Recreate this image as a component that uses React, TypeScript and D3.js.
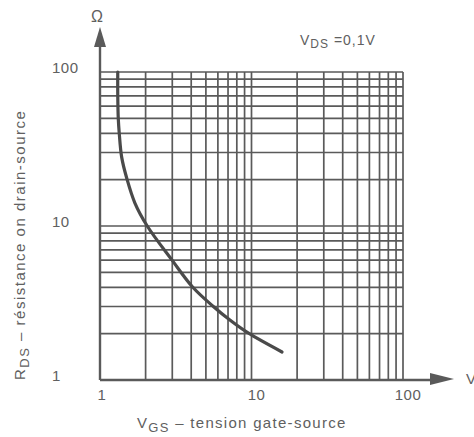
import React from "react";
import * as d3 from "d3";

const xGridValues = [2, 3, 4, 5, 6, 7, 8, 9, 10, 20, 30, 40, 50, 60, 70, 80, 90, 100];
const yGridValues = [2, 3, 4, 5, 6, 7, 8, 9, 10, 20, 30, 40, 50, 60, 70, 80, 90, 100];
const xTicks = [1, 10, 100];
const yTicks = [1, 10, 100];
const xTickLabels = ["1", "10", "100"];
const yTickLabels = ["1", "10", "100"];

const vgs = [1.31, 1.31, 1.32, 1.34, 1.39, 1.5, 1.7, 2.05, 2.99, 4.1, 5.6, 7.2, 9.5, 15.9];
const rds = [100, 70, 50, 40, 28, 20.5, 14.1, 10, 6.0, 4.0, 3.0, 2.45, 2.02, 1.52];

const W = 474;
const H = 437;
const ink = "#5a5a5a";
const textInk = "#606060";
const font = "'Liberation Sans', Arial, sans-serif";

export default function App() {
  const x = d3.scaleLog().domain([1, 100]).range([100, 403]);
  const y = d3.scaleLog().domain([1, 100]).range([380, 72]);
  const pts: [number, number][] = vgs.map((v, i) => [v, rds[i]]);
  const line = d3
    .line<[number, number]>()
    .x((d) => x(d[0]))
    .y((d) => y(d[1]))
    .curve(d3.curveCatmullRom.alpha(0.5));

  return (
    <svg
      width={W}
      height={H}
      style={{ position: "absolute", left: 0, top: 0, background: "#fff" }}
      fontFamily={font}
    >
      <rect width={W} height={H} fill="#fff" />
      {xGridValues.map((v) => (
        <line key={"vx" + v} x1={x(v)} x2={x(v)} y1={y(100)} y2={y(1)} stroke={ink} strokeWidth={1.7} />
      ))}
      {yGridValues.map((v) => (
        <line key={"hy" + v} x1={x(1)} x2={x(100)} y1={y(v)} y2={y(v)} stroke={ink} strokeWidth={1.7} />
      ))}
      <line x1={x(1)} x2={x(1)} y1={y(1)} y2={40} stroke={ink} strokeWidth={2.4} />
      <path d={`M${x(1)},27 L${x(1) - 6},47 L${x(1) + 6},47 Z`} fill={ink} />
      <line x1={x(1)} x2={440} y1={y(1)} y2={y(1)} stroke={ink} strokeWidth={2.4} />
      <path d={`M454,${y(1) - 1} L430,${y(1) - 7} L430,${y(1) + 5} Z`} fill={ink} />
      <path d={line(pts) || ""} fill="none" stroke="#4a4a4a" strokeWidth={3.2} strokeLinecap="round" />
      {yTicks.map((v, i) => (
        <text key={"yt" + v} x={52} y={y(v) + 1} fontSize={15} fill={textInk} letterSpacing={0.5}>
          {yTickLabels[i]}
        </text>
      ))}
      {xTicks.map((v, i) => (
        <text key={"xt" + v} x={x(v) + (i === 0 ? 2 : 5)} y={400} fontSize={15} fill={textInk} textAnchor="middle" letterSpacing={0.5}>
          {xTickLabels[i]}
        </text>
      ))}
      <text x={97} y={22} fontSize={16} fill={textInk} textAnchor="middle">Ω</text>
      <text x={466} y={384} fontSize={15} fill={textInk}>V</text>
      <text x={300} y={45} fontSize={14} fill={textInk} letterSpacing={1}>
        V<tspan fontSize={12} dy={3}>DS</tspan>
        <tspan dy={-3}> =0,1V</tspan>
      </text>
      <text x={137} y={428} fontSize={15} fill={textInk} letterSpacing={1.3}>
        V<tspan fontSize={13} dy={4}>GS</tspan>
        <tspan dy={-4}> – tension gate-source</tspan>
      </text>
      <text transform="translate(25,380) rotate(-90)" fontSize={15} fill={textInk} letterSpacing={1.5}>
        R<tspan fontSize={13} dy={4}>DS</tspan>
        <tspan dy={-4}> – résistance on drain-source</tspan>
      </text>
    </svg>
  );
}
